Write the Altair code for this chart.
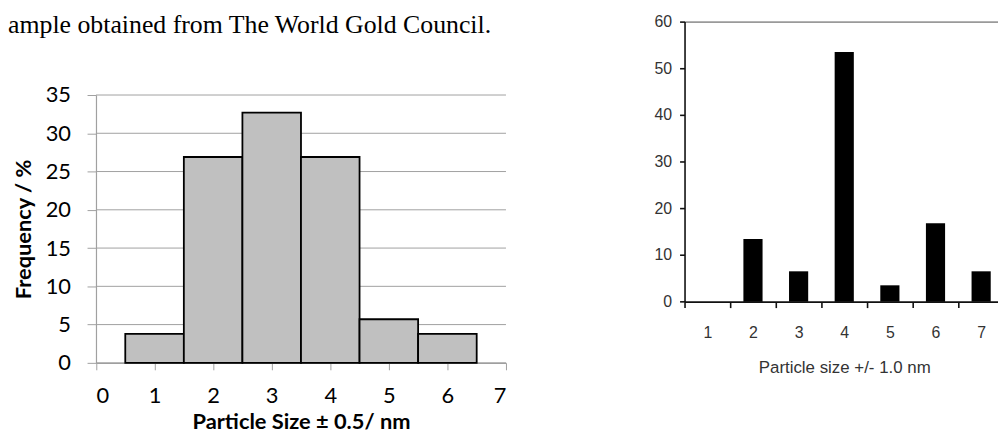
import altair as alt
import pandas as pd

# ---- data ----
left_sizes = [1, 2, 3, 4, 5, 6]
left_freq = [3.8, 26.9, 32.7, 26.9, 5.7, 3.8]
left_yticks = [0, 5, 10, 15, 20, 25, 30, 35]
left_xticks = [0, 1, 2, 3, 4, 5, 6, 7]

right_cats = ["1", "2", "3", "4", "5", "6", "7"]
right_vals = [0, 13.4, 6.5, 53.5, 3.5, 16.8, 6.5]
right_yticks = [0, 10, 20, 30, 40, 50, 60]

top_text = ["ample obtained from The World Gold Council."]

W, H = 998, 426

# ---- scales (pixel ranges place the two panels) ----
lx = alt.Scale(domain=[0, 7], range=[88.7, 502], nice=False, zero=False)
ly = alt.Scale(domain=[0, 35], range=[356, 86], nice=False)
rx = alt.Scale(domain=right_cats, range=[682, 1004], paddingInner=0, paddingOuter=0)
ry = alt.Scale(domain=[0, 60], range=[294.3, 12], nice=False)

GRID = "#a0a0a0"

df_left = pd.DataFrame({"size": left_sizes, "freq": left_freq})
df_grid = pd.DataFrame({"g": left_yticks})
df_right = pd.DataFrame({"cat": right_cats, "val": right_vals})
df_text = pd.DataFrame({"t": top_text})

grid = alt.Chart(df_grid).mark_rule(color=GRID, strokeWidth=1).encode(
    x=alt.X(datum=0, scale=lx, axis=None),
    x2=alt.X2(datum=7),
    y=alt.Y("g:Q", scale=ly, axis=None),
)

left_bars = alt.Chart(df_left).transform_calculate(
    lo="datum.size - 0.5", hi="datum.size + 0.5"
).mark_bar(fill="#c0c0c0", stroke="#000000", strokeWidth=1.8).encode(
    x=alt.X("lo:Q", scale=lx, axis=alt.Axis(
        orient="bottom", offset=-(H - 356), values=left_xticks, grid=False,
        domainColor=GRID, domainWidth=1.2, tickColor=GRID, tickSize=7,
        labelFont="Lato", labelFontSize=22, labelColor="#000000", labelPadding=16,
        title="Particle Size ± 0.5/ nm", titleFont="Lato", titleFontSize=22,
        titleFontWeight="bold", titleColor="#000000", titlePadding=5,
    )),
    x2="hi:Q",
    y=alt.Y("freq:Q", scale=ly, axis=alt.Axis(
        orient="left", offset=-88.7, values=left_yticks, grid=False,
        domainColor=GRID, domainWidth=1.2, tickColor=GRID, tickSize=9,
        labelFont="Lato", labelFontSize=22, labelColor="#000000", labelPadding=16.7,
        title="Frequency / %", titleFont="Lato", titleFontSize=22,
        titleFontWeight="bold", titleColor="#000000", titlePadding=10,
    )),
    y2=alt.Y2(datum=0),
)

right_bars = alt.Chart(df_right).mark_bar(
    fill="#000000", width=alt.RelativeBandSize(0.42)
).encode(
    x=alt.X("cat:N", scale=rx, sort=right_cats, axis=alt.Axis(
        orient="bottom", offset=-(H - 294.3), tickBand="extent", labelAngle=0,
        domainColor="#111111", domainWidth=1.6, tickColor="#111111", tickWidth=1.6,
        tickSize=6, labelFont="Liberation Sans", labelFontSize=16,
        labelColor="#333333", labelPadding=17,
        title="Particle size +/- 1.0 nm", titleFont="Liberation Sans",
        titleFontSize=17, titleFontWeight="normal", titleColor="#333333",
        titlePadding=19,
    )),
    y=alt.Y("val:Q", scale=ry, axis=alt.Axis(
        orient="left", offset=-682, values=right_yticks, grid=False,
        domainColor="#111111", domainWidth=1.6, tickColor="#111111", tickWidth=1.6,
        tickSize=5, labelFont="Liberation Sans", labelFontSize=16,
        labelColor="#333333", labelPadding=8, title=None,
    )),
)

frame_top = alt.Chart(df_right).mark_bar(opacity=0).encode(
    x=alt.X("cat:N", scale=rx, sort=right_cats, axis=alt.Axis(
        orient="top", offset=-12, labels=False, ticks=False, title=None,
        domainColor="#9a9a9a", domainWidth=1.6,
    )),
    y=alt.Y("val:Q", scale=ry, axis=None),
)

text = alt.Chart(df_text).mark_text(
    align="left", baseline="alphabetic", font="Liberation Serif",
    fontSize=26, color="#000000",
).encode(x=alt.value(0), y=alt.value(23), text="t:N")

chart = alt.layer(grid, left_bars, right_bars, frame_top, text).resolve_scale(
    x="independent", y="independent"
).properties(
    width=W, height=H, padding=0,
    autosize=alt.AutoSizeParams(type="none"),
).configure_view(stroke=None)

chart.save("out.html", embed_options={"renderer": "svg", "actions": False})
